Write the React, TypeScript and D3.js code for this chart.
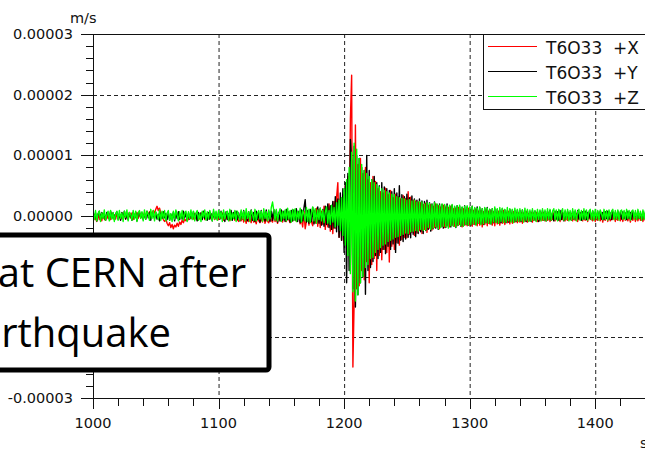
import React, { useRef, useEffect } from 'react';
import * as d3 from 'd3';

// one sample per second, starting at t = 1000 s
const startTime = 1000;
const sampleStep = 1;

// ground velocity, in µm/s (one row = 20 s)
const seriesX = [
    -0.7, 0.2, -0.5, -0.9, 0.3, -0.6, 0.1, -0.8, 0.4, -0.5, -0.7, 0.2, -0.4, 0.3, -0.6, 0.5, -0.3, 0.2, -0.5, 0.4,
    -0.4, 0.3, -0.6, 0.5, -0.2, 0.4, -0.5, 0.2, -0.4, 0.6, -0.3, 0.5, -0.6, 0.3, -0.2, 0.6, -0.4, 0.5, -0.3, 0.4,
    -0.3, 0.6, -0.4, 0.5, 0.2, 0.7, -0.2, 0.6, 0.9, 0.5, 1.1, 1.6, 0.9, 1.3, 0.5, 0.2, -0.6, -0.9, -0.5, -1.2,
    -1.6, -1.1, -1.9, -1.4, -2.1, -1.5, -1.8, -1.2, -1.7, -1.0, -1.4, -0.7, -1.1, -0.5, -0.8, -0.3, -0.6, 0.2, -0.4, 0.3,
    -0.5, 0.4, -0.3, -0.7, 0.3, -0.5, 0.5, -0.4, 0.2, -0.6, 0.4, -0.3, 0.5, -0.5, 0.3, -0.4, 0.4, -0.6, 0.2, -0.3,
    -0.6, 0.3, -0.4, 0.5, -0.7, 0.2, -0.5, 0.4, -0.3, -0.8, 0.3, -0.5, 0.2, -0.7, 0.4, -0.6, -0.9, 0.1, -0.8, 0.2,
    -1.0, -0.4, -1.2, 0.1, -0.9, -0.5, -1.1, 0.2, -1.0, -0.6, -1.3, 0.0, -0.8, -1.1, -0.4, -1.0, 0.2, -1.2, -0.5, -0.9,
    -1.1, 0.3, -0.7, -1.0, 0.4, -0.9, -0.3, -1.2, 0.2, -0.8, -0.5, -1.0, 0.3, -0.7, -0.9, 0.1, -0.6, -1.1, 0.4, -0.8,
    -0.5, 0.5, -0.9, -0.4, 0.6, -1.3, -0.6, -1.8, 0.8, -2.1, -0.9, 0.7, -1.5, 1.0, -1.0, -1.6, 0.9, -1.2, 1.3, -1.7,
    1.1, -1.9, 0.8, -1.4, 1.6, -2.2, 1.2, -1.8, 2.0, -2.5, 1.5, -2.9, 2.4, -2.0, 3.0, 5.5, -3.5, 2.8, -4.0, 3.5,
    -4.5, 5.0, -3.8, 6.5, -6.0, 16.0, 23.2, -24.9, -14.0, 15.0, -12.0, 8.5, -11.5, 9.5, -9.0, 7.0, -10.5, 8.0, -7.5, 6.0,
    -11.0, 5.5, -8.0, 6.5, -7.0, 5.7, -9.0, 4.5, -6.5, 4.0, -7.2, 3.8, -5.5, 4.6, -6.0, 3.5, -7.6, 4.2, -5.0, 3.0,
    -5.5, 3.6, -4.4, 3.2, -4.8, 2.8, -3.9, 3.4, -3.5, 2.9, -3.6, 4.0, -3.0, 3.1, -2.7, 2.6, -3.2, 2.5, -2.8, 2.3,
    -2.4, 2.2, -2.9, 1.9, -2.2, 2.1, -2.7, 1.8, -2.0, 1.9, -2.3, 1.6, -1.9, 2.0, -1.8, 1.7, -2.1, 1.5, -1.7, 1.8,
    -1.9, 1.5, -1.6, 1.4, -1.8, 1.6, -1.5, 1.2, -1.7, 1.3, -1.6, 1.4, -1.4, 1.1, -1.8, 1.2, -1.5, 1.0, -1.6, 1.3,
    -1.5, 1.0, -1.7, 0.9, -1.4, 1.1, -1.6, 0.8, -1.5, 0.9, -1.8, 0.7, -1.4, 1.0, -1.6, 0.8, -1.3, 0.9, -1.5, 0.7,
    -1.6, 0.6, -1.3, 0.8, -1.5, 0.7, -1.2, 0.9, -1.4, 0.6, -1.1, 0.8, -1.3, 0.5, -1.2, 0.7, -1.0, 0.6, -1.1, 0.5,
    -1.0, 0.6, -1.2, 0.5, -0.9, 0.7, -1.0, 0.4, -0.8, 0.6, -1.0, 0.5, -0.7, 0.6, -0.9, 0.4, -0.8, 0.5, -0.7, 0.6,
    -0.8, 0.4, -0.7, 0.5, -0.9, 0.3, -0.6, 0.5, -0.8, 0.4, -0.7, 0.3, -0.9, 0.5, -0.6, 0.4, -0.8, 0.3, -0.7, 0.5,
    -0.6, 0.4, -0.8, 0.3, -0.7, 0.4, -0.9, 0.2, -0.6, 0.4, -0.8, 0.3, -0.7, 0.2, -0.9, 0.4, -0.6, 0.3, -0.8, 0.2,
    -0.9, 0.3, -0.7, 0.2, -0.8, 0.1, -1.0, 0.3, -0.7, 0.2, -0.9, 0.1, -0.8, 0.3, -0.6, 0.2, -0.9, 0.1, -0.7, 0.2,
    -0.8, 0.1, -0.9, 0.2, -0.7, 0.0, -0.8, 0.2, -1.0, 0.1, -0.7, 0.2, -0.9, 0.0, -0.8, 0.1, -0.7, 0.2, -0.9, 0.1,
    -0.8
];

const seriesY = [
    0.7, -0.4, 0.5, -0.8, 0.3, 0.8, -0.5, 0.6, -0.3, 0.4, -0.7, 0.6, 0.2, -0.5, 0.8, -0.4, 0.5, -0.6, 0.3, 0.7,
    -0.5, 0.4, -0.7, 0.6, -0.3, 0.8, -0.5, 0.3, -0.6, 0.5, 0.2, -0.7, 0.6, -0.4, 0.5, -0.8, 0.4, 0.7, -0.3, 0.5,
    -0.6, 0.4, -0.5, 0.8, -0.3, 0.6, -0.7, 0.5, 0.2, -0.4, 0.6, -0.5, 0.3, -0.8, 0.5, -0.4, 0.7, -0.3, 0.4, -0.6,
    0.5, -0.7, 0.3, -0.5, 0.6, -0.8, 0.4, -0.4, 0.7, -0.6, 0.3, -0.5, 0.8, -0.3, 0.5, -0.7, 0.4, -0.5, 0.6, -0.4,
    0.7, -0.5, 0.4, -0.8, 0.6, -0.3, 0.5, -0.6, 0.8, -0.4, 0.3, -0.7, 0.6, -0.5, 0.4, -0.8, 0.7, -0.4, 0.5, -0.6,
    0.6, -0.5, 0.8, -0.4, 0.5, -0.9, 0.7, -0.6, 0.4, -0.5, 0.9, -0.7, 0.6, -0.4, 0.8, -0.6, 0.5, -0.8, 0.7, -0.5,
    0.9, -0.6, 0.5, -0.8, 0.7, -0.5, 1.0, -0.7, 0.6, -0.9, 0.8, -0.6, 0.5, -1.0, 0.9, -0.7, 0.6, -0.8, 1.0, -0.6,
    0.7, -0.9, 0.8, -0.7, 1.1, -0.6, 0.9, -1.0, 0.6, -0.8, 1.0, -0.7, 0.8, -0.9, 1.1, -0.6, 0.7, -1.0, 0.9, -0.8,
    1.0, -0.7, 1.2, -0.9, 0.8, -1.1, 1.0, -0.8, 1.3, 2.7, -1.0, 0.9, -1.2, 1.1, -0.9, 1.4, -1.3, 1.0, -1.1, 1.5,
    -1.2, 1.3, -1.5, 1.1, -1.7, 1.6, -1.4, 2.0, -1.9, 1.7, -2.2, 2.4, -2.0, 3.2, -2.6, 2.8, -3.5, 3.8, -4.0, 4.5,
    -6.0, 5.5, -11.0, 7.0, -9.0, 12.6, 9.0, -12.0, 11.5, -15.0, 10.0, -13.0, 9.5, -11.0, 8.0, -10.0, 7.5, -12.9, 10.0, -9.0,
    7.5, -8.5, 6.0, -7.5, 6.5, -6.5, 5.5, -7.0, 5.0, -6.0, 5.5, -5.5, 4.8, -6.2, 4.5, -5.0, 4.2, -5.5, 4.0, -4.6,
    4.5, -6.0, 3.8, -4.5, 5.0, -4.0, 3.5, -4.2, 3.2, -3.8, 3.6, -3.5, 3.0, -3.6, 3.3, -3.0, 2.8, -3.4, 2.6, -2.9,
    2.8, -2.6, 2.5, -2.9, 2.4, -2.4, 2.6, -2.2, 2.2, -2.5, 2.0, -2.1, 2.3, -2.0, 1.9, -2.2, 2.0, -1.8, 1.9, -2.0,
    1.8, -1.9, 2.0, -1.7, 1.6, -1.8, 1.8, -1.6, 1.5, -1.9, 1.7, -1.5, 1.6, -1.7, 1.4, -1.6, 1.7, -1.4, 1.5, -1.5,
    1.4, -1.5, 1.6, -1.3, 1.3, -1.4, 1.5, -1.2, 1.4, -1.3, 1.2, -1.4, 1.3, -1.1, 1.4, -1.2, 1.1, -1.3, 1.2, -1.1,
    1.2, -1.0, 1.1, -1.2, 1.0, -1.1, 1.2, -0.9, 1.0, -1.1, 0.9, -1.0, 1.1, -0.8, 1.0, -1.0, 0.9, -0.9, 1.0, -0.8,
    0.9, -0.9, 1.0, -0.7, 0.8, -0.9, 0.9, -0.8, 0.7, -0.9, 0.9, -0.7, 0.8, -0.8, 0.7, -0.9, 0.8, -0.6, 0.9, -0.7,
    0.7, -0.8, 0.8, -0.6, 0.9, -0.7, 0.6, -0.8, 0.8, -0.5, 0.7, -0.7, 0.9, -0.6, 0.6, -0.8, 0.7, -0.5, 0.8, -0.6,
    0.6, -0.7, 0.8, -0.5, 0.7, -0.6, 0.9, -0.5, 0.6, -0.7, 0.7, -0.5, 0.8, -0.6, 0.6, -0.4, 0.7, -0.6, 0.8, -0.5,
    0.6, -0.6, 0.7, -0.4, 0.8, -0.5, 0.6, -0.6, 0.7, -0.4, 0.8, -0.5, 0.5, -0.6, 0.7, -0.4, 0.6, -0.5, 0.8, -0.4,
    0.6, -0.5, 0.7, -0.4, 0.5, -0.6, 0.8, -0.4, 0.6, -0.5, 0.7, -0.3, 0.6, -0.5, 0.8, -0.4, 0.5, -0.6, 0.7, -0.4,
    0.6
];

const seriesZ = [
    0.7, -0.6, 0.9, -0.8, 0.4, 0.8, -0.9, 0.5, -0.4, 1.0, -0.7, 0.2, 0.8, -0.8, 0.9, -0.5, 0.6, -0.9, 0.3, 0.8,
    -0.7, 0.9, -0.4, 0.5, -0.9, 0.8, -0.2, 1.0, -0.8, 0.6, 0.3, -0.7, 0.9, -0.5, 0.8, -0.9, 0.5, 0.9, -0.4, 0.7,
    -0.8, 1.0, -0.5, 0.8, 0.3, -0.7, 1.1, -0.4, 0.9, -0.8, 0.7, 0.2, -0.6, 1.0, -0.7, 0.8, -0.4, 0.9, -0.8, 0.5,
    0.9, -0.7, 0.4, -0.9, 0.8, -0.5, 1.0, 0.2, -0.8, 0.7, -0.4, 0.9, -0.7, 0.5, 0.8, -0.9, 0.7, -0.4, 1.0, -0.6,
    0.8, -0.8, 0.5, 0.9, -0.7, 0.4, -0.9, 0.8, -0.2, 1.0, -0.7, 0.7, -0.5, 0.9, 0.2, -0.8, 1.1, -0.5, 0.8, -0.7,
    0.9, -0.4, 0.7, -0.9, 1.0, -0.5, 0.4, 0.8, -0.8, 1.1, -0.7, 0.5, -0.4, 0.9, -0.9, 0.8, 0.2, -0.7, 1.0, -0.5,
    0.8, -0.8, 1.2, -0.4, 0.7, -0.9, 0.9, 0.3, -0.7, 1.1, -0.8, 0.5, 0.9, -0.5, 0.8, -0.9, 1.2, -0.4, 0.7, -0.8,
    1.0, -0.5, 1.4, 2.3, 0.9, -0.7, 1.1, -0.8, 0.5, 1.2, -0.9, 0.8, -0.4, 1.0, -0.8, 1.3, -0.5, 0.9, -1.0, 1.1,
    -0.7, 1.2, -0.9, 0.8, -0.5, 1.3, -1.0, 0.9, 0.3, -0.8, 1.4, -0.9, 1.1, -1.1, 0.6, 1.5, -0.8, 1.2, -1.2, 1.0,
    -0.6, 1.3, -0.8, 1.0, -1.1, 0.6, 1.5, -1.2, 0.9, -1.4, 1.8, -1.0, 1.4, -1.8, 2.2, -1.5, 2.6, -2.4, 3.0, -3.2,
    4.5, -4.8, 6.0, -6.5, 8.0, -9.5, 10.5, -12.5, 12.0, -14.0, 11.0, -13.0, 9.5, -11.0, 8.5, -10.0, 7.5, -8.5, 7.0, -8.0,
    6.5, -7.0, 6.0, -6.8, 5.5, -6.0, 5.2, -5.5, 4.8, -5.2, 4.5, -4.8, 4.2, -4.6, 4.0, -4.2, 3.8, -4.0, 3.6, -3.8,
    3.5, -3.5, 3.2, -3.4, 3.0, -3.2, 2.9, -3.0, 2.8, -2.8, 2.6, -2.9, 2.7, -2.6, 2.5, -2.5, 2.6, -2.4, 2.3, -2.5,
    2.4, -2.2, 2.3, -2.4, 2.0, -2.3, 2.2, -1.9, 2.1, -2.2, 1.9, -2.0, 2.2, -1.8, 2.0, -2.1, 1.8, -1.9, 2.0, -1.7,
    1.9, -1.8, 1.7, -2.0, 1.8, -1.6, 1.9, -1.7, 1.6, -1.8, 1.7, -1.5, 1.8, -1.6, 1.5, -1.7, 1.6, -1.4, 1.7, -1.5,
    1.5, -1.4, 1.6, -1.3, 1.4, -1.5, 1.3, -1.2, 1.5, -1.4, 1.2, -1.3, 1.4, -1.1, 1.3, -1.2, 1.1, -1.3, 1.2, -1.0,
    1.5, -1.1, 1.2, -1.2, 1.4, -0.9, 1.3, -1.1, 1.1, -1.0, 1.4, -0.8, 1.2, -1.0, 1.1, -1.1, 1.3, -0.8, 1.1, -0.9,
    1.2, -0.8, 1.0, -1.0, 1.3, -0.7, 1.1, -0.9, 1.0, -0.8, 1.2, -0.7, 0.9, -0.9, 1.1, -0.6, 1.0, -0.8, 1.2, -0.7,
    1.0, -0.8, 1.2, -0.6, 1.1, -0.7, 0.8, 1.2, -0.6, 1.0, -0.8, 1.1, -0.6, 0.7, 1.2, -0.7, 1.0, -0.6, 1.1, -0.8,
    0.9, -0.7, 1.2, -0.5, 1.0, -0.8, 0.7, 1.1, -0.7, 0.9, -0.6, 1.2, -0.5, 1.0, -0.7, 0.8, 1.1, -0.6, 0.9, -0.7,
    1.1, -0.5, 0.9, -0.7, 1.0, 0.4, -0.6, 1.1, -0.5, 0.9, -0.7, 1.0, -0.4, 0.8, 1.1, -0.6, 0.9, -0.5, 1.0, -0.7,
    0.8, 1.0, -0.5, 0.9, -0.6, 1.1, -0.4, 0.9, -0.7, 0.8, 1.0, -0.5, 0.9, -0.6, 1.1, -0.4, 0.8, -0.7, 1.0, -0.5,
    0.9
];

const seriesNames = ["T6O33  +X", "T6O33  +Y", "T6O33  +Z"];
const seriesColors = ["#ff0000", "#000000", "#00ff00"];

const xMajorTicks = [1000, 1100, 1200, 1300, 1400];
const xTickLabels = ["1000", "1100", "1200", "1300", "1400"];
const yMajorTicks = [-0.00003, 0, 0.00001, 0.00002, 0.00003];
const yTickLabels = ["-0.00003", "0.00000", "0.00001", "0.00002", "0.00003"];
const yGridTicks = [-0.00002, -0.00001, 0, 0.00001, 0.00002];

const noteLines = ["at CERN after", "rthquake"];

const App = () => {
    const svgRef = useRef(null);

    useEffect(() => {
        const svg = d3.select(svgRef.current);
        svg.selectAll("*").remove();

        const width = 645;
        const height = 449;
        const left = 93, top = 34, bottom = 398;
        const font = "'DejaVu Sans', Verdana, sans-serif";

        const x = d3.scaleLinear().domain([1000, 1450]).range([left, left + 565]);
        const y = d3.scaleLinear().domain([-0.00003, 0.00003]).range([bottom, top]);

        svg.append("rect").attr("width", width).attr("height", height).attr("fill", "white");

        // dashed grid
        const grid = svg.append("g").attr("stroke", "#222").attr("stroke-dasharray", "4,3");
        grid.selectAll("line.gx")
            .data(xMajorTicks.slice(1))
            .join("line")
            .attr("x1", d => x(d) + 0.5).attr("x2", d => x(d) + 0.5)
            .attr("y1", top).attr("y2", bottom);
        grid.selectAll("line.gy")
            .data(yGridTicks)
            .join("line")
            .attr("x1", left).attr("x2", width)
            .attr("y1", d => Math.round(y(d)) + 0.5).attr("y2", d => Math.round(y(d)) + 0.5);

        // traces
        svg.append("clipPath").attr("id", "plot-clip")
            .append("rect").attr("x", left).attr("y", top).attr("width", width - left).attr("height", bottom - top);

        const line = d3.line()
            .x((d, i) => x(startTime + i * sampleStep))
            .y(d => y(d * 1e-6));

        const traces = svg.append("g").attr("clip-path", "url(#plot-clip)");
        [seriesX, seriesY, seriesZ].forEach((s, k) => {
            traces.append("path")
                .datum(s)
                .attr("d", line)
                .attr("fill", "none")
                .attr("stroke", seriesColors[k])
                .attr("stroke-width", 1.4)
                .attr("stroke-linejoin", "round");
        });

        // frame
        const axes = svg.append("g").attr("stroke", "#111").attr("shape-rendering", "crispEdges");
        axes.append("line").attr("x1", left).attr("x2", width).attr("y1", top).attr("y2", top);
        axes.append("line").attr("x1", left).attr("x2", width).attr("y1", bottom).attr("y2", bottom);
        axes.append("line").attr("x1", left).attr("x2", left).attr("y1", top).attr("y2", bottom + 11);

        // x ticks
        axes.selectAll("line.xt")
            .data(d3.range(1000, 1441, 20))
            .join("line")
            .attr("x1", d => Math.round(x(d))).attr("x2", d => Math.round(x(d)))
            .attr("y1", bottom).attr("y2", d => bottom + (d % 100 === 0 ? 11 : 8));

        // y ticks
        axes.selectAll("line.yt")
            .data(d3.range(-15, 16))
            .join("line")
            .attr("x1", d => left - (d % 5 === 0 ? 12 : 7)).attr("x2", left)
            .attr("y1", d => Math.round(y(d * 2e-6))).attr("y2", d => Math.round(y(d * 2e-6)));

        svg.selectAll("text.xl")
            .data(xMajorTicks)
            .join("text")
            .attr("x", d => x(d))
            .attr("y", 428)
            .attr("text-anchor", "middle")
            .attr("font-family", font)
            .attr("font-size", "14.5px")
            .attr("fill", "#111")
            .text((d, i) => xTickLabels[i]);

        // labels of -0.00001 and -0.00002 sit under the note box, so they are left out
        svg.selectAll("text.yl")
            .data(yMajorTicks)
            .join("text")
            .attr("x", 73)
            .attr("y", d => y(d) + 5)
            .attr("text-anchor", "end")
            .attr("font-family", font)
            .attr("font-size", "14.5px")
            .attr("fill", "#111")
            .text((d, i) => yTickLabels[i]);

        svg.append("text")
            .attr("x", 70).attr("y", 23)
            .attr("font-family", font).attr("font-size", "14.5px").attr("fill", "#111")
            .text("m/s");

        svg.append("text")
            .attr("x", 640).attr("y", 448)
            .attr("font-family", font).attr("font-size", "14.5px").attr("fill", "#111")
            .text("s");

        // legend
        const legend = svg.append("g");
        legend.append("rect")
            .attr("x", 483.5).attr("y", 34.5).attr("width", 170).attr("height", 75)
            .attr("fill", "white").attr("stroke", "#111");
        seriesNames.forEach((name, i) => {
            legend.append("line")
                .attr("x1", 488).attr("x2", 537)
                .attr("y1", 46.5 + i * 25).attr("y2", 46.5 + i * 25)
                .attr("stroke", seriesColors[i]).attr("stroke-width", 1.2);
            legend.append("text")
                .attr("x", 546).attr("y", 54 + i * 25)
                .attr("font-family", font).attr("font-size", "17px").attr("fill", "#111")
                .style("white-space", "pre")
                .text(name);
        });

        // overlaid note box
        svg.append("rect")
            .attr("x", -10).attr("y", 235).attr("width", 279).attr("height", 135)
            .attr("rx", 3)
            .attr("fill", "white").attr("stroke", "black").attr("stroke-width", 5);
        svg.selectAll("text.note")
            .data(noteLines)
            .join("text")
            .attr("x", (d, i) => (i === 0 ? 246 : 171))
            .attr("y", (d, i) => 287 + i * 60)
            .attr("text-anchor", "end")
            .attr("font-family", "'Open Sans', sans-serif")
            .attr("font-size", "40px")
            .attr("fill", "black")
            .text(d => d);
    }, []);

    return (
        <svg ref={svgRef} width={645} height={449}
            style={{ position: "fixed", left: 0, top: 0, display: "block" }}></svg>
    );
};

export default App;
